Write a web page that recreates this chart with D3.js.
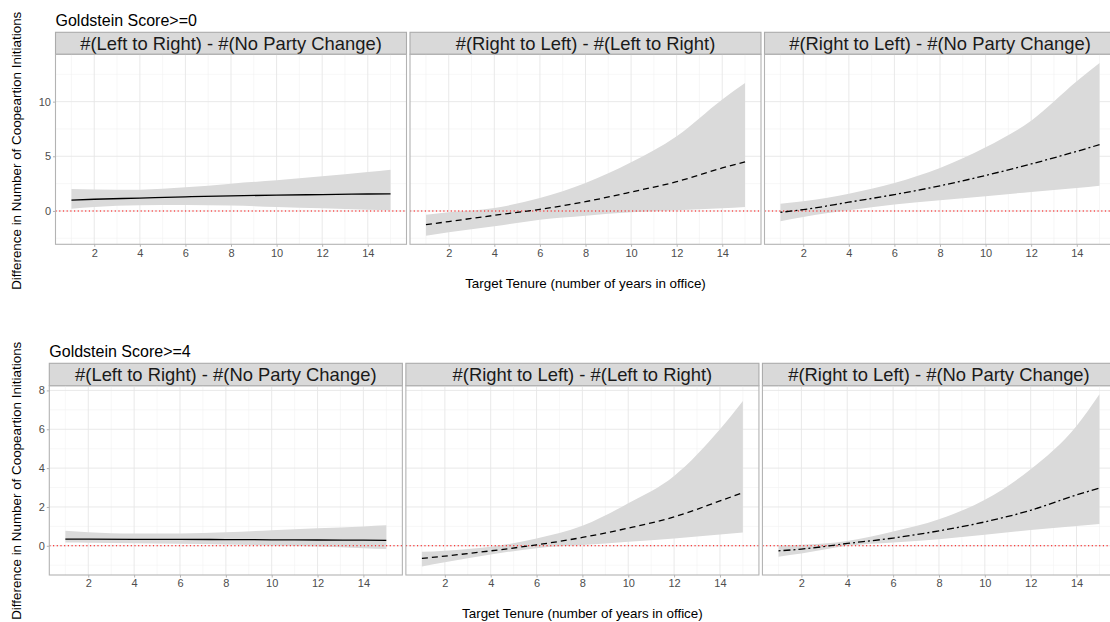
<!DOCTYPE html>
<html>
<head>
<meta charset="utf-8">
<script src="https://cdn.jsdelivr.net/npm/d3@7"></script>
<style>
  html, body { margin: 0; padding: 0; background: #fff; }
  svg { display: block; font-family: "Liberation Sans", Arial, sans-serif; }
</style>
</head>
<body>
<div id="chart"></div>
<script>
// Predicted difference in cooperation initiations by target tenure
const tenure = [1, 2, 4, 6, 8, 10, 12, 14, 15];
const facetLabels = [
  '#(Left to Right) - #(No Party Change)',
  '#(Right to Left) - #(Left to Right)',
  '#(Right to Left) - #(No Party Change)',
];
const lineTypes = ['solid', 'dashed', 'dotdash'];
const xTicks = [2, 4, 6, 8, 10, 12, 14];

// Goldstein >= 0
const g0LrNpFit = [1.0, 1.07, 1.18, 1.29, 1.38, 1.45, 1.5, 1.55, 1.57];
const g0LrNpHi  = [2.01, 1.97, 1.95, 2.16, 2.5, 2.8, 3.17, 3.57, 3.78];
const g0LrNpLo  = [0.21, 0.36, 0.52, 0.55, 0.49, 0.36, 0.24, 0.12, 0.06];
const g0RlLrFit = [-1.25, -0.97, -0.4, 0.15, 0.85, 1.73, 2.68, 3.93, 4.48];
const g0RlLrHi  = [-0.34, -0.12, 0.27, 1.19, 2.56, 4.45, 6.83, 10.2, 11.7];
const g0RlLrLo  = [-2.26, -1.95, -1.4, -0.8, -0.43, -0.12, 0.06, 0.25, 0.37];
const g0RlNpFit = [-0.12, 0.12, 0.8, 1.5, 2.3, 3.25, 4.3, 5.45, 6.07];
const g0RlNpHi  = [0.67, 0.88, 1.58, 2.56, 3.93, 5.82, 8.26, 11.86, 13.54];
const g0RlNpLo  = [-0.95, -0.55, 0.06, 0.58, 0.97, 1.34, 1.74, 2.1, 2.31];
const yTicksG0 = [0, 5, 10];

// Goldstein >= 4
const g4LrNpFit = [0.34, 0.34, 0.33, 0.33, 0.32, 0.31, 0.3, 0.29, 0.28];
const g4LrNpHi  = [0.77, 0.7, 0.63, 0.64, 0.7, 0.8, 0.9, 1.0, 1.06];
const g4LrNpLo  = [0.17, 0.16, 0.13, 0.1, 0.07, 0.02, -0.04, -0.12, -0.17];
const g4RlLrFit = [-0.65, -0.53, -0.26, 0.05, 0.43, 0.91, 1.49, 2.31, 2.74];
const g4RlLrHi  = [-0.31, -0.25, -0.05, 0.38, 1.03, 2.19, 3.6, 6.0, 7.46];
const g4RlLrLo  = [-1.06, -0.85, -0.45, -0.12, 0.04, 0.21, 0.38, 0.58, 0.69];
const g4RlNpFit = [-0.26, -0.17, 0.12, 0.4, 0.77, 1.23, 1.83, 2.62, 2.97];
const g4RlNpHi  = [0.0, 0.05, 0.25, 0.74, 1.37, 2.37, 3.94, 6.17, 7.8];
const g4RlNpLo  = [-0.56, -0.4, 0.0, 0.17, 0.34, 0.57, 0.81, 1.02, 1.12];
const yTicksG4 = [0, 2, 4, 6, 8];

const W = 1110, H = 622;
const DASH = { solid: null, dashed: '6,4', dotdash: '2,3,7,3' };

const svg = d3.select('#chart').append('svg')
  .attr('width', W).attr('height', H);

function drawBlock(cfg) {
  const blk = svg.append('g');
  const series = cfg.series;

  // panel geometry (third panel runs past the right edge, as in the source)
  const gap = 3.5;
  const pw = (1115.5 - cfg.left - 2 * gap) / 3;
  const allVals = series.flatMap(s => s.lo.concat(s.hi));
  const [ymin, ymax] = d3.extent(allVals);
  const ypad = (ymax - ymin) * 0.05;
  const y = d3.scaleLinear().domain([ymin - ypad, ymax + ypad])
    .range([cfg.panelBottom, cfg.stripBottom]);

  // block title
  blk.append('text')
    .attr('x', cfg.left).attr('y', cfg.titleY)
    .attr('font-size', 16).attr('fill', '#000')
    .text(cfg.title);

  // y axis title
  blk.append('text')
    .attr('transform', `translate(20.5, ${cfg.yTitleMid}) rotate(-90)`)
    .attr('text-anchor', 'middle')
    .attr('font-size', 13.4).attr('fill', '#000')
    .text('Difference in Number of Coopeartion Initiations');

  // x axis title
  blk.append('text')
    .attr('x', (cfg.left + 1115.5) / 2).attr('y', cfg.xTitleY)
    .attr('text-anchor', 'middle')
    .attr('font-size', 13.4).attr('fill', '#000')
    .text('Target Tenure (number of years in office)');

  const yStep = cfg.yTicks[1] - cfg.yTicks[0];
  const yMinor = d3.range(-10, 20, yStep).map(v => v + yStep / 2)
    .filter(m => m > y.domain()[0] && m < y.domain()[1]);
  const yMajor = cfg.yTicks.filter(v => v > y.domain()[0] && v < y.domain()[1]);

  series.forEach((s, i) => {
    const x0 = cfg.left + i * (pw + gap);
    const x = d3.scaleLinear().domain([0.3, 15.7]).range([x0, x0 + pw]);
    const xMinor = d3.range(1, 16, 2);
    const p = blk.append('g');

    // strip
    p.append('rect')
      .attr('x', x0).attr('y', cfg.stripTop)
      .attr('width', pw).attr('height', cfg.stripBottom - cfg.stripTop)
      .attr('fill', '#D9D9D9').attr('stroke', '#ABABAB').attr('stroke-width', 1.1);
    p.append('text')
      .attr('x', x0 + pw / 2).attr('y', (cfg.stripTop + cfg.stripBottom) / 2)
      .attr('dy', '0.36em').attr('text-anchor', 'middle')
      .attr('font-size', 18.4).attr('fill', '#1A1A1A')
      .text(facetLabels[i]);

    // grid
    p.selectAll('.ygm').data(yMinor).join('line')
      .attr('x1', x0).attr('x2', x0 + pw)
      .attr('y1', d => y(d)).attr('y2', d => y(d))
      .attr('stroke', '#F2F2F2').attr('stroke-width', 0.6);
    p.selectAll('.xgm').data(xMinor).join('line')
      .attr('x1', d => x(d)).attr('x2', d => x(d))
      .attr('y1', cfg.stripBottom).attr('y2', cfg.panelBottom)
      .attr('stroke', '#F2F2F2').attr('stroke-width', 0.6);
    p.selectAll('.yg').data(yMajor).join('line')
      .attr('x1', x0).attr('x2', x0 + pw)
      .attr('y1', d => y(d)).attr('y2', d => y(d))
      .attr('stroke', '#E6E6E6').attr('stroke-width', 0.9);
    p.selectAll('.xg').data(xTicks).join('line')
      .attr('x1', d => x(d)).attr('x2', d => x(d))
      .attr('y1', cfg.stripBottom).attr('y2', cfg.panelBottom)
      .attr('stroke', '#E6E6E6').attr('stroke-width', 0.9);

    // ribbon
    const pts = tenure.map((t, k) => ({ t, fit: s.fit[k], lo: s.lo[k], hi: s.hi[k] }));
    p.append('path').datum(pts)
      .attr('d', d3.area().curve(d3.curveMonotoneX)
        .x(d => x(d.t)).y0(d => y(d.lo)).y1(d => y(d.hi)))
      .attr('fill', '#DADADA');

    // zero reference
    p.append('line')
      .attr('x1', x0).attr('x2', x0 + pw)
      .attr('y1', y(0)).attr('y2', y(0))
      .attr('stroke', '#FF0000').attr('stroke-width', 1.1)
      .attr('stroke-dasharray', '1.2,2.5');

    // fitted line
    p.append('path').datum(pts)
      .attr('d', d3.line().curve(d3.curveMonotoneX).x(d => x(d.t)).y(d => y(d.fit)))
      .attr('fill', 'none').attr('stroke', '#000').attr('stroke-width', 1.3)
      .attr('stroke-dasharray', DASH[lineTypes[i]]);

    // panel border
    p.append('rect')
      .attr('x', x0).attr('y', cfg.stripBottom)
      .attr('width', pw).attr('height', cfg.panelBottom - cfg.stripBottom)
      .attr('fill', 'none').attr('stroke', '#B3B3B3').attr('stroke-width', 1.1);

    // x axis
    const xa = p.append('g').attr('transform', `translate(0, ${cfg.panelBottom})`)
      .call(d3.axisBottom(x).tickValues(xTicks).tickSize(2.5).tickPadding(2));
    xa.select('.domain').remove();
    xa.selectAll('line').attr('stroke', '#B3B3B3');
    xa.selectAll('text').attr('font-size', 11).attr('fill', '#4D4D4D')
      .attr('font-family', '"Liberation Sans", Arial, sans-serif');

    // y axis (first panel only)
    if (i === 0) {
      const ya = p.append('g').attr('transform', `translate(${x0}, 0)`)
        .call(d3.axisLeft(y).tickValues(yMajor).tickSize(2.5).tickPadding(2));
      ya.select('.domain').remove();
      ya.selectAll('line').attr('stroke', '#B3B3B3');
      ya.selectAll('text').attr('font-size', 11).attr('fill', '#4D4D4D')
        .attr('font-family', '"Liberation Sans", Arial, sans-serif');
    }
  });
}

drawBlock({
  title: 'Goldstein Score>=0',
  left: 55.5, titleY: 25.7,
  stripTop: 32.3, stripBottom: 54.3, panelBottom: 244.3,
  xTitleY: 287.5, yTitleMid: 150.8,
  yTicks: yTicksG0,
  series: [
    { fit: g0LrNpFit, lo: g0LrNpLo, hi: g0LrNpHi },
    { fit: g0RlLrFit, lo: g0RlLrLo, hi: g0RlLrHi },
    { fit: g0RlNpFit, lo: g0RlNpLo, hi: g0RlNpHi },
  ],
});

drawBlock({
  title: 'Goldstein Score>=4',
  left: 49.3, titleY: 356.7,
  stripTop: 363.3, stripBottom: 385.7, panelBottom: 575,
  xTitleY: 618, yTitleMid: 480.8,
  yTicks: yTicksG4,
  series: [
    { fit: g4LrNpFit, lo: g4LrNpLo, hi: g4LrNpHi },
    { fit: g4RlLrFit, lo: g4RlLrLo, hi: g4RlLrHi },
    { fit: g4RlNpFit, lo: g4RlNpLo, hi: g4RlNpHi },
  ],
});
</script>
</body>
</html>
